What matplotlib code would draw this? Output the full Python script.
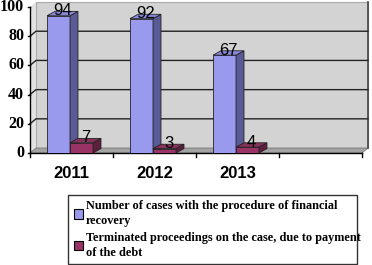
import numpy as np
import matplotlib.pyplot as plt
from matplotlib.patches import Polygon, Patch

# ----- data
years = ['2011', '2012', '2013']
recovery = [94, 92, 67]
terminated = [7, 3, 4]
series_names = ['Number of cases with the procedure of financial\nrecovery',
                'Terminated proceedings on the case, due to payment\nof the debt']

# ----- style
n_slots = 4          # excel left an empty 4th category
bar_w = 0.277        # width of one bar, in category units
bar_off = 0.205      # left edge of first bar inside its slot
bdx, bdy = 0.096, 3.0    # depth of the bars (x in categories, y in values)
wdx, wdy = 0.072, 3.4    # depth of the walls
faces = [('#9999ee', '#8888dd', '#5a5a96'),   # front, top, side
         ('#993366', '#86305a', '#5c1f3d')]

fig = plt.figure(figsize=(3.72, 2.65), dpi=100)
ax = fig.add_axes([30/372, 112/265, 332/372, 146/265])
ax.set_xlim(0, n_slots)
ax.set_ylim(0, 100)
ax.axis('off')

def poly(pts, fc, ec='none', lw=0.6, z=1):
    ax.add_patch(Polygon(pts, closed=True, fc=fc, ec=ec, lw=lw, zorder=z, clip_on=False))

# walls and floor
poly([(wdx, wdy), (n_slots + wdx, wdy), (n_slots + wdx, 100 + wdy), (wdx, 100 + wdy)],
     '#d3d3d3', ec='#aaaaaa', lw=0.8)
poly([(0, 0), (wdx, wdy), (wdx, 100 + wdy), (0, 100)], '#e2e2e2')
poly([(0, 0), (wdx, wdy), (n_slots + wdx, wdy), (n_slots, 0)], '#a3a3a3', ec='#777777', lw=0.6)
ax.plot([n_slots + wdx] * 2, [wdy, 100 + wdy], color='#444444', lw=1.2, clip_on=False)

for v in range(20, 100, 20):
    ax.plot([0, wdx, n_slots + wdx], [v, v + wdy, v + wdy], color='#222222', lw=1.0, zorder=2, clip_on=False)

# axes lines and ticks
ax.plot([0, 0], [0, 100], color='black', lw=1.0, zorder=3, clip_on=False)
ax.plot([0, n_slots], [0, 0], color='black', lw=1.0, zorder=3, clip_on=False)
for v in range(0, 101, 20):
    ax.plot([-0.03, 0], [v, v], color='black', lw=1.0, clip_on=False)
    ax.text(-0.07, v, str(v), ha='right', va='center', fontsize=11.5,
            family='Liberation Serif', weight='bold')
for i in range(n_slots + 1):
    ax.plot([i, i], [0, -2.5], color='black', lw=1.0, clip_on=False)
for i, y in enumerate(years):
    ax.text(i + 0.5, -9, y, ha='center', va='top', fontsize=12,
            family='Liberation Sans', weight='bold')

# 3d-ish bars
for k, vals in enumerate([recovery, terminated]):
    front, top, side = faces[k]
    x0s = np.arange(len(vals)) + bar_off + k * bar_w
    ax.bar(x0s, vals, width=bar_w, align='edge', color=front, ec='#222222', lw=0.6, zorder=5)
    for x0, v in zip(x0s, vals):
        x1 = x0 + bar_w
        poly([(x1, 0), (x1 + bdx, bdy), (x1 + bdx, v + bdy), (x1, v)], side, ec='#222222', z=5)
        poly([(x0, v), (x1, v), (x1 + bdx, v + bdy), (x0 + bdx, v + bdy)], top, ec='#222222', z=5)
        ax.text(x0 + bar_w / 2 + bdx / 2, v + 3.5, str(v), ha='center', va='center',
                fontsize=12, family='Liberation Sans', zorder=6)

# legend
handles = [Patch(fc=faces[k][0], ec='black', lw=0.8) for k in range(2)]
leg = fig.legend(handles, series_names, loc='upper left',
                 bbox_to_anchor=(68/372, 1 - 195/265, 289/372, 0.001), mode='expand',
                 prop={'family': 'Liberation Serif', 'weight': 'bold', 'size': 8.8},
                 handlelength=0.8, handleheight=0.8, handletextpad=0.2, borderpad=0.45,
                 borderaxespad=0, labelspacing=0.4, frameon=True, fancybox=False,
                 edgecolor='black')
leg.get_frame().set_linewidth(1.0)
for t in leg.get_texts():
    t.set_linespacing(1.3)

fig.savefig('out.png', dpi=100)
